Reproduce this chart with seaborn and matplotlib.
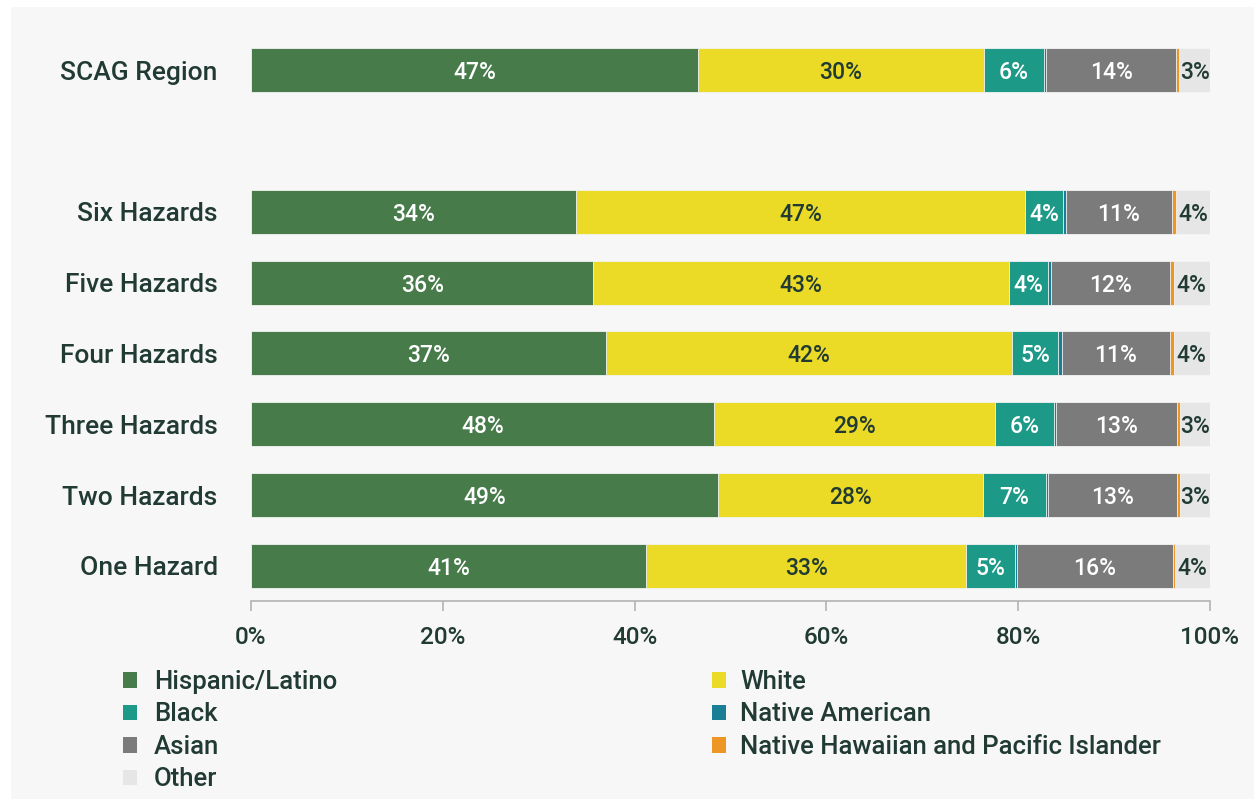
import matplotlib
matplotlib.use("Agg")
import matplotlib.pyplot as plt
from matplotlib.patches import Rectangle, Patch
import seaborn as sns
import pandas as pd
import numpy as np

categories = ["SCAG Region", "Six Hazards", "Five Hazards", "Four Hazards",
              "Three Hazards", "Two Hazards", "One Hazard"]
order = ["SCAG Region", " ", "Six Hazards", "Five Hazards", "Four Hazards",
         "Three Hazards", "Two Hazards", "One Hazard"]

groups = ["Hispanic/Latino", "White", "Black", "Native American", "Asian",
          "Native Hawaiian and Pacific Islander", "Other"]

hispanic = [46.6, 33.9, 35.7, 37.0, 48.3, 48.7, 41.2]
white = [29.8, 46.8, 43.3, 42.4, 29.3, 27.6, 33.4]
black = [6.3, 4.0, 4.1, 4.8, 6.1, 6.6, 5.1]
native_american = [0.2, 0.25, 0.3, 0.35, 0.2, 0.25, 0.2]
asian = [13.6, 11.1, 12.4, 11.3, 12.7, 13.4, 16.2]
nhpi = [0.3, 0.4, 0.4, 0.35, 0.3, 0.3, 0.25]
other = [3.2, 3.6, 3.8, 3.8, 3.1, 3.1, 3.6]

series = [hispanic, white, black, native_american, asian, nhpi, other]
colors = ["#477c4a", "#ebdb27", "#1d9a87", "#1a7f94", "#7b7b7b", "#ee9623", "#e6e6e6"]
label_colors = ["white", "#213b34", "white", None, "white", None, "#213b34"]

xticks = [0, 20, 40, 60, 80, 100]
xticklabels = ["0%", "20%", "40%", "60%", "80%", "100%"]

TXT = "#213b34"
BG = "#f7f7f7"

sns.set_theme(style="white")
plt.rcParams["font.family"] = ["Roboto", "DejaVu Sans"]
plt.rcParams["font.weight"] = "medium"

fig = plt.figure(figsize=(12.54, 7.99), dpi=100, facecolor="white")
fig.patches.append(Rectangle((11 / 1254, 0), 1 - 11 / 1254, 1 - 7 / 799,
                             transform=fig.transFigure, facecolor=BG,
                             edgecolor="none", zorder=-10))

ax = fig.add_axes([251 / 1254, 1 - 601.4 / 799, (1210 - 251) / 1254, (601.4 - 34.6) / 799])
ax.set_facecolor(BG)
ax.patch.set_alpha(0)

df = pd.DataFrame({"category": categories})
for g, vals in zip(groups, series):
    df[g] = vals
cum = df[groups].cumsum(axis=1)

# draw cumulative bars from the rightmost segment back to the leftmost
for i in range(len(groups) - 1, -1, -1):
    d = pd.DataFrame({"category": categories, "value": cum[groups[i]].values})
    sns.barplot(data=d, x="value", y="category", order=order, orient="h",
                color=colors[i], width=0.62, errorbar=None, ax=ax,
                edgecolor="#f4f4f4", linewidth=0.6, saturation=1)

# segment labels
for i, g in enumerate(groups):
    if label_colors[i] is None:
        continue
    for j, cat in enumerate(categories):
        v = df.loc[j, g]
        start = cum.loc[j, g] - v
        ax.text(start + v / 2, order.index(cat), f"{v:.0f}%", ha="center",
                va="center_baseline", color=label_colors[i], fontsize=16.5,
                fontweight="medium")

ax.set_xlim(0, 100)
ax.set_ylim(len(order) - 0.5, -0.5)
ax.set_xticks(xticks)
ax.set_xticklabels(xticklabels)
ax.set_xlabel("")
ax.set_ylabel("")
for s in ["top", "right", "left"]:
    ax.spines[s].set_visible(False)
ax.spines["bottom"].set_color("#b3b3b3")
ax.spines["bottom"].set_linewidth(1.2)
ax.tick_params(axis="x", which="both", bottom=True, length=7, width=1.2,
               color="#b3b3b3", labelsize=17.5, labelcolor=TXT, pad=11)
ax.tick_params(axis="y", length=0, labelsize=19, labelcolor=TXT, pad=24)

handles = [Patch(facecolor=c, edgecolor="none") for c in colors]
left_idx = [0, 2, 4, 6]
right_idx = [1, 3, 5]
common = dict(loc="upper left", frameon=False, borderpad=0,
              prop={"size": 18.5, "weight": "medium"},
              borderaxespad=0, handlelength=0.55, handleheight=0.55,
              handletextpad=0.65, labelspacing=0.33, labelcolor=TXT)
fig.legend([handles[i] for i in left_idx], [groups[i] for i in left_idx],
           bbox_to_anchor=(123 / 1254, 1 - 670 / 799), **common)
common["handletextpad"] = 0.55
fig.legend([handles[i] for i in right_idx], [groups[i] for i in right_idx],
           bbox_to_anchor=(712 / 1254, 1 - 670 / 799), **common)

fig.savefig("out.png", dpi=100, facecolor="white")
